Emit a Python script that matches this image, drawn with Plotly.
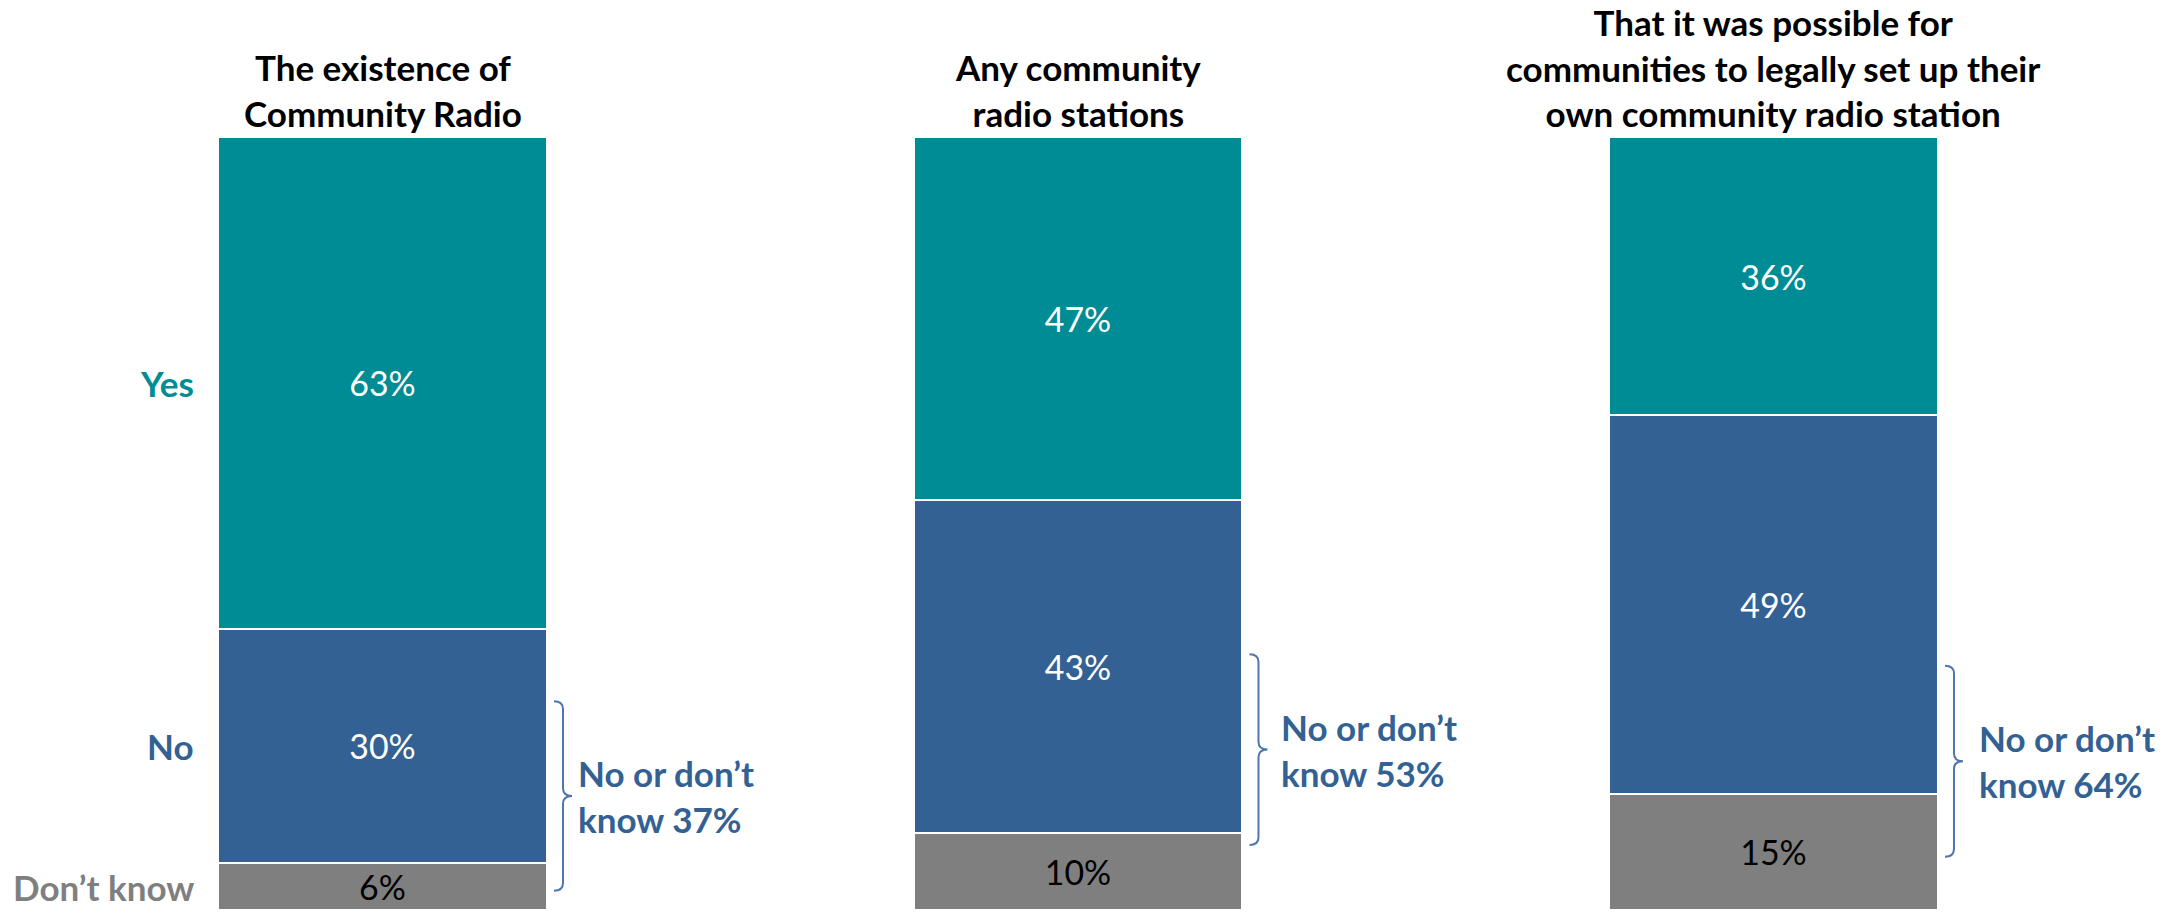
import plotly.graph_objects as go

# ---- data ----
questions = [
    "The existence of<br>Community Radio",
    "Any community<br>radio stations",
    "That it was possible for<br>communities to legally set up their<br>own community radio station",
]
series_names = ["Don’t know", "No", "Yes"]
dont_know = [6, 10, 15]
no_vals = [30, 43, 49]
yes_vals = [63, 47, 36]
no_or_dk_labels = ["No or don’t<br>know 37%", "No or don’t<br>know 53%", "No or don’t<br>know 64%"]

# ---- style / layout helpers (not data) ----
TEAL = "#008C94"
BLUE = "#336194"
GRAY = "#7F7F7F"
FONT = "Lato"
FS_BOLD = 35
FS_VAL = 34
BAR_W = 0.473
# bracket extents (in normalized % units) and text offsets
bracket_lo = [2.5, 8.4, 6.9]
bracket_hi = [27.0, 33.1, 31.6]
text_shift = [29, 37, 39]

x = list(range(len(questions)))
totals = [a + b + c for a, b, c in zip(dont_know, no_vals, yes_vals)]

fig = go.Figure()
for name, vals, col, tcol in [
    ("Don’t know", dont_know, GRAY, "black"),
    ("No", no_vals, BLUE, "white"),
    ("Yes", yes_vals, TEAL, "white"),
]:
    fig.add_trace(go.Bar(
        x=x, y=vals, name=name, width=BAR_W,
        marker=dict(color=col, line=dict(color="white", width=2)),
        text=[f"{v}%" for v in vals], textposition="inside",
        insidetextanchor="middle", textangle=0,
        textfont=dict(family=FONT, size=FS_VAL, color=tcol),
        hoverinfo="skip",
    ))

fig.update_layout(
    barmode="stack", barnorm="percent",
    width=2172, height=913, autosize=False,
    margin=dict(l=0, r=0, t=137, b=3, pad=0),
    plot_bgcolor="white", paper_bgcolor="white",
    showlegend=False,
    uniformtext=dict(minsize=10, mode="show"),
    xaxis=dict(range=[-0.550, 2.573], visible=False, fixedrange=True),
    yaxis=dict(range=[0, 100], visible=False, fixedrange=True),
)

# titles above bars
for i, q in enumerate(questions):
    fig.add_annotation(x=i, y=1, xref="x", yref="paper", text=f"<b>{q}</b>",
                       showarrow=False, xanchor="center", yanchor="bottom",
                       yshift=1, align="center",
                       font=dict(family=FONT, size=FS_BOLD, color="black"))

# row labels at the middle of each segment of the first bar
t0 = totals[0]
dk_n = dont_know[0] / t0 * 100
no_n = no_vals[0] / t0 * 100
yes_n = yes_vals[0] / t0 * 100
for lab, yc, col in [
    ("Yes", dk_n + no_n + yes_n / 2, TEAL),
    ("No", dk_n + no_n / 2, BLUE),
    ("Don’t know", dk_n / 2, GRAY),
]:
    fig.add_annotation(x=-BAR_W / 2, y=yc, xref="x", yref="y", text=f"<b>{lab}</b>",
                       showarrow=False, xanchor="right", yanchor="middle", xshift=-22,
                       font=dict(family=FONT, size=FS_BOLD, color=col))

# brackets and "No or don't know" labels
px_per_unit = 2172 / (2.573 + 0.550)
for i in x:
    xr = i + BAR_W / 2
    x0 = xr + 7 / px_per_unit
    x1 = xr + 16 / px_per_unit
    x2 = xr + 25 / px_per_unit
    lo, hi = bracket_lo[i], bracket_hi[i]
    mid = (lo + hi) / 2
    r = 1.0
    path = (f"M {x0} {hi} Q {x1} {hi} {x1} {hi - r} L {x1} {mid + r} "
            f"Q {x1} {mid} {x2} {mid} Q {x1} {mid} {x1} {mid - r} "
            f"L {x1} {lo + r} Q {x1} {lo} {x0} {lo}")
    fig.add_shape(type="path", path=path, xref="x", yref="y",
                  line=dict(color="#4F77AD", width=2))
    fig.add_annotation(x=xr, y=mid, xref="x", yref="y",
                       text=f"<b>{no_or_dk_labels[i]}</b>",
                       showarrow=False, xanchor="left", yanchor="middle",
                       xshift=text_shift[i], align="left",
                       font=dict(family=FONT, size=FS_BOLD, color=BLUE))

fig.write_html("out.html")
